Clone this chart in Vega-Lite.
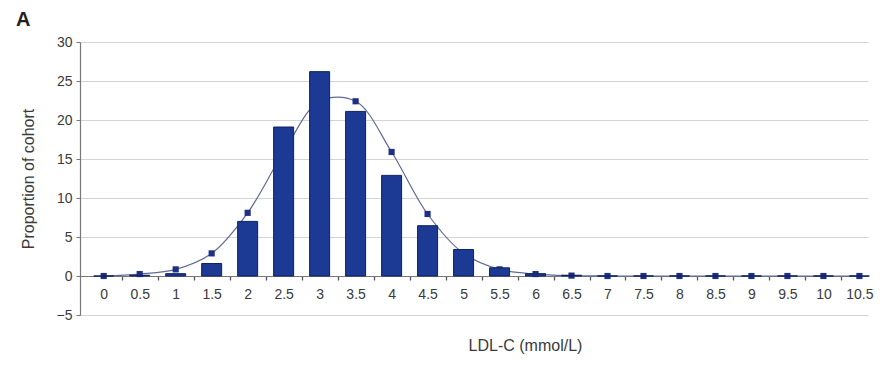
{
  "$schema": "https://vega.github.io/schema/vega-lite/v6.json",
  "width": 788,
  "height": 273,
  "autosize": {"type": "none"},
  "padding": {"left": 80, "top": 42, "right": 24, "bottom": 50},
  "background": "white",
  "title": {"text": "A", "anchor": "start", "frame": "group", "dx": -64, "dy": -5, "fontSize": 20, "fontWeight": "bold", "font": "Liberation Sans", "color": "#222", "offset": 0},
  "config": {
    "font": "Liberation Sans",
    "view": {"stroke": null},
    "axis": {"labelFont": "Liberation Sans", "titleFont": "Liberation Sans", "labelColor": "#3a3a3a", "titleColor": "#3a3a3a", "labelFontSize": 14, "titleFontSize": 16, "titleFontWeight": "normal", "labelOverlap": false}
  },
  "data": {"values": [
    {"ldl": 0, "bar": 0, "fit": 0},
    {"ldl": 0.5, "bar": 0.1, "fit": 0.25},
    {"ldl": 1, "bar": 0.3, "fit": 0.85},
    {"ldl": 1.5, "bar": 1.6, "fit": 2.9},
    {"ldl": 2, "bar": 7.0, "fit": 8.1},
    {"ldl": 2.5, "bar": 19.1, "fit": 15.9},
    {"ldl": 3, "bar": 26.2, "fit": 22.4},
    {"ldl": 3.5, "bar": 21.1, "fit": 22.4},
    {"ldl": 4, "bar": 12.9, "fit": 15.9},
    {"ldl": 4.5, "bar": 6.45, "fit": 7.95},
    {"ldl": 5, "bar": 3.4, "fit": 2.9},
    {"ldl": 5.5, "bar": 1.05, "fit": 0.85},
    {"ldl": 6, "bar": 0.3, "fit": 0.25},
    {"ldl": 6.5, "bar": 0.1, "fit": 0.05},
    {"ldl": 7, "bar": 0, "fit": 0},
    {"ldl": 7.5, "bar": 0, "fit": 0},
    {"ldl": 8, "bar": 0, "fit": 0},
    {"ldl": 8.5, "bar": 0, "fit": 0},
    {"ldl": 9, "bar": 0, "fit": 0},
    {"ldl": 9.5, "bar": 0, "fit": 0},
    {"ldl": 10, "bar": 0, "fit": 0},
    {"ldl": 10.5, "bar": 0, "fit": 0}
  ]},
  "resolve": {"axis": {"x": "independent"}},
  "layer": [
    {
      "mark": {"type": "line", "interpolate": "catmull-rom", "color": "#5f6b94", "strokeWidth": 1.2},
      "encoding": {
        "x": {"field": "ldl", "type": "quantitative", "scale": {"domain": [-0.26, 10.55], "nice": false, "zero": false},
          "axis": {"orient": "bottom", "tickCount": 40, "values": [0.25, 0.75, 1.25, 1.75, 2.25, 2.75, 3.25, 3.75, 4.25, 4.75, 5.25, 5.75, 6.25, 6.75, 7.25, 7.75, 8.25, 8.75, 9.25, 9.75, 10.25], "labels": false, "ticks": true, "tickSize": 4, "tickColor": "#555", "tickWidth": 1.3, "domain": false, "grid": false, "offset": -39, "title": null}},
        "y": {"field": "fit", "type": "quantitative", "scale": {"domain": [-5, 30], "nice": false},
          "axis": {"values": [-5, 0, 5, 10, 15, 20, 25, 30], "tickCount": 20, "labelOverlap": false, "grid": true, "gridColor": "#d4d4d4", "gridWidth": 1.2, "tickSize": 4, "tickColor": "#777", "domainColor": "#777", "domainWidth": 1.2, "labelPadding": 4, "title": "Proportion of cohort", "titlePadding": 20}}
      }
    },
    {
      "mark": {"type": "square", "size": 38, "color": "#1f2f85", "opacity": 1, "filled": true},
      "encoding": {
        "x": {"field": "ldl", "type": "quantitative", "axis": null},
        "y": {"field": "fit", "type": "quantitative"}
      }
    },
    {
      "mark": {"type": "bar", "size": 20, "color": "#1c3994", "stroke": "#0f2260", "strokeWidth": 1},
      "encoding": {
        "x": {"field": "ldl", "type": "quantitative",
          "axis": {"orient": "bottom", "tickCount": 40, "values": [0, 0.5, 1, 1.5, 2, 2.5, 3, 3.5, 4, 4.5, 5, 5.5, 6, 6.5, 7, 7.5, 8, 8.5, 9, 9.5, 10, 10.5], "format": "~g", "ticks": false, "labelPadding": 11, "domain": true, "domainColor": "#777", "domainWidth": 1.2, "grid": false, "offset": -39, "title": "LDL-C (mmol/L)", "titlePadding": 36, "titleX": 445}},
        "y": {"field": "bar", "type": "quantitative"}
      }
    }
  ]
}
